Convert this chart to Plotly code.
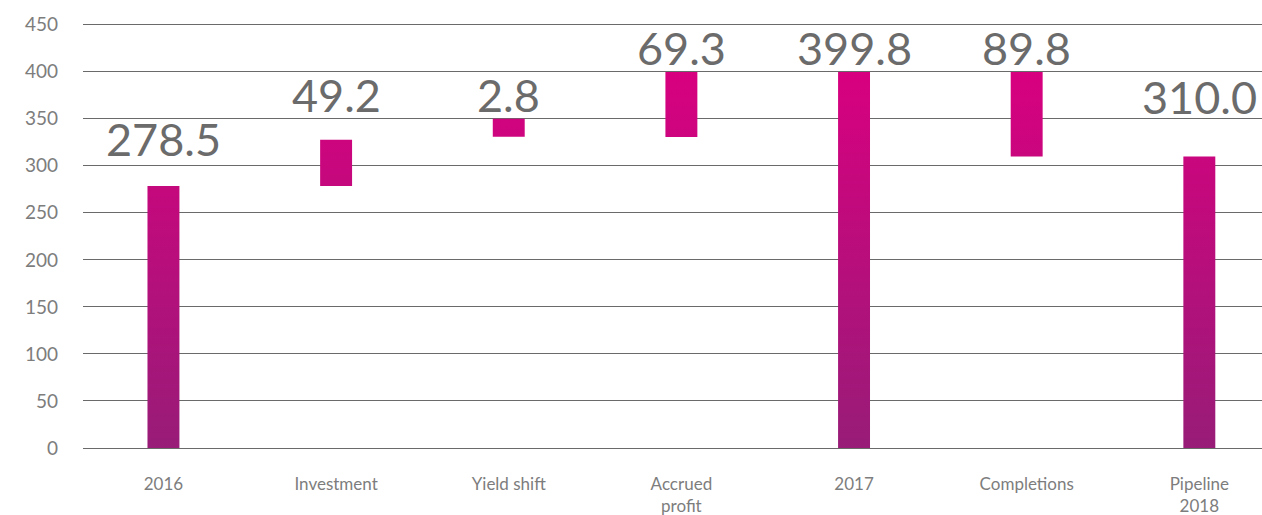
import plotly.graph_objects as go

# ---- data ----
categories = ["2016", "Investment", "Yield shift", "Accrued<br>profit", "2017", "Completions", "Pipeline<br>2018"]
value_labels = ["278.5", "49.2", "2.8", "69.3", "399.8", "89.8", "310.0"]
bar_bottom = [0, 278.5, 331.0, 330.5, 0, 310.0, 0]
bar_top = [278.5, 327.7, 350.0, 399.8, 399.8, 399.8, 310.0]
label_y = [328, 375, 375, 425, 425, 425, 373]
y_ticks = [0, 50, 100, 150, 200, 250, 300, 350, 400, 450]

PURPLE = "#981c78"
MAGENTA = "#d8007f"
GRID = "#6a6a6a"
TEXT_BIG = "#6b6b6b"
TEXT_TICK = "#7d7d7d"
BAR_W = 0.185

fig = go.Figure()
for i, (lo, hi) in enumerate(zip(bar_bottom, bar_top)):
    x0, x1 = i - BAR_W / 2, i + BAR_W / 2
    fig.add_trace(go.Scatter(
        x=[x0, x1, x1, x0, x0],
        y=[lo, lo, hi, hi, lo],
        mode="lines",
        line=dict(width=0, color=MAGENTA),
        fill="toself",
        fillgradient=dict(type="vertical",
                          colorscale=[[0, PURPLE], [1, MAGENTA]],
                          start=0, stop=400),
        hoverinfo="skip",
        showlegend=False,
    ))

for i, (txt, ly) in enumerate(zip(value_labels, label_y)):
    fig.add_annotation(x=i, y=ly, text=txt, showarrow=False,
                       xanchor="center", yanchor="middle",
                       font=dict(family="Lato", size=45, color=TEXT_BIG))

fig.update_layout(
    width=1262, height=515,
    margin=dict(l=83, r=0, t=20, b=67),
    paper_bgcolor="white", plot_bgcolor="white",
    showlegend=False,
)
fig.update_xaxes(
    range=[-0.466, 6.363],
    tickmode="array", tickvals=list(range(len(categories))), ticktext=categories,
    showgrid=False, zeroline=False, showline=False,
    ticks="", ticklabelstandoff=24,
    tickfont=dict(family="Lato", size=17, color=TEXT_TICK),
    automargin=False,
)
fig.update_yaxes(
    range=[0, 455],
    tickmode="array", tickvals=y_ticks,
    showgrid=True, gridcolor=GRID, gridwidth=1,
    zeroline=True, zerolinecolor=GRID, zerolinewidth=1,
    showline=False, ticks="", ticklabelstandoff=24,
    tickfont=dict(family="Lato", size=19, color=TEXT_TICK),
    automargin=False,
)

# remove the browser's default page margin so the figure fills the window
fig.write_html(
    "out.html",
    config={"displayModeBar": False},
    post_script="document.body.style.margin='0';document.body.style.overflow='hidden';",
)
